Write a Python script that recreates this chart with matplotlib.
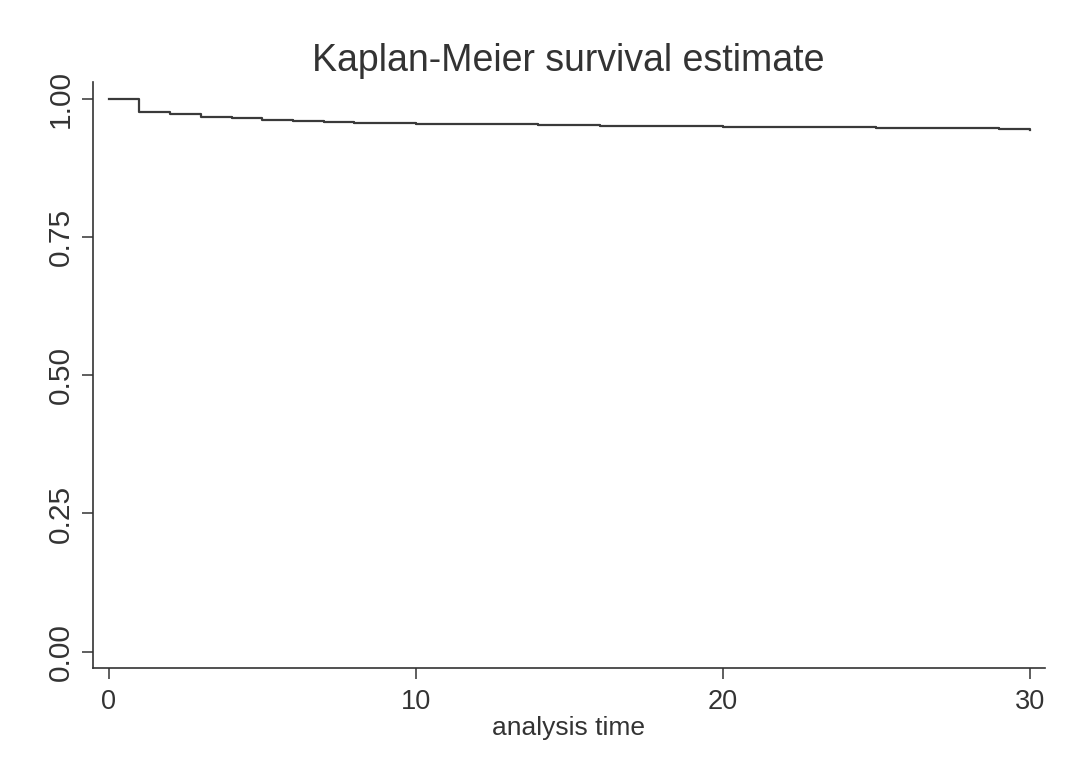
import matplotlib.pyplot as plt

# survival step function
times    = [0, 1, 2, 3, 4, 5, 6, 7, 8, 10, 12, 14, 15, 16, 20, 21, 25, 29, 30]
survival = [1.000, 0.977, 0.972, 0.968, 0.965, 0.962, 0.960, 0.958, 0.957, 0.955,
            0.954, 0.953, 0.952, 0.951, 0.950, 0.949, 0.948, 0.946, 0.943]
xticks   = [0, 10, 20, 30]
yticks   = [0.00, 0.25, 0.50, 0.75, 1.00]
ylabels  = ['0.00', '0.25', '0.50', '0.75', '1.00']

plt.rcParams['font.family'] = ['Liberation Sans', 'DejaVu Sans']

fig = plt.figure(figsize=(10.67, 7.71), dpi=100)
ax = fig.add_axes([0.087, 0.134, 0.892, 0.76])

ax.step(times, survival, where='post', color='#3a3a3a', lw=1.6)

ax.set_xlim(-0.52, 30.49)
ax.set_ylim(-0.029, 1.031)
ax.set_xticks(xticks)
ax.set_yticks(yticks)
ax.set_yticklabels(ylabels, rotation=90, va='center')
ax.tick_params(direction='out', length=8, width=1.1, color='#333333',
               labelcolor='#333333')
ax.tick_params(axis='x', labelsize=19.5, pad=7)
ax.tick_params(axis='y', labelsize=21.5, pad=5)

for side in ['top', 'right']:
    ax.spines[side].set_visible(False)
for side in ['left', 'bottom']:
    ax.spines[side].set_color('#333333')
    ax.spines[side].set_linewidth(1.2)

ax.set_title('Kaplan-Meier survival estimate', fontsize=27, color='#333333', pad=8)
ax.set_xlabel('analysis time', fontsize=19, color='#333333', labelpad=1)

fig.savefig('out.png', dpi=100)
